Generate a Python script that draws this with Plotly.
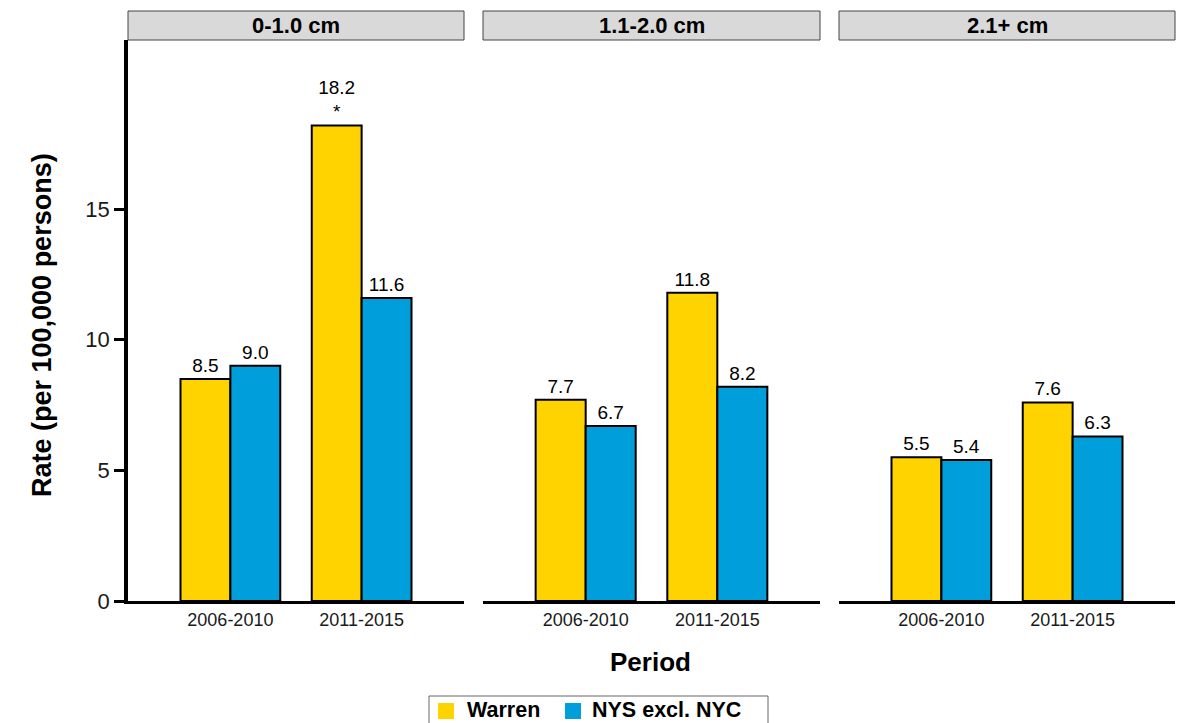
import plotly.graph_objects as go

panels = ["0-1.0 cm", "1.1-2.0 cm", "2.1+ cm"]
periods = ["2006-2010", "2011-2015"]
series_names = ["Warren", "NYS excl. NYC"]
warren = [[8.5, 18.2], [7.7, 11.8], [5.5, 7.6]]
nys = [[9.0, 11.6], [6.7, 8.2], [5.4, 6.3]]
warren_labels = [["8.5", "18.2<br>*"], ["7.7", "11.8"], ["5.5", "7.6"]]
nys_labels = [["9.0", "11.6"], ["6.7", "8.2"], ["5.4", "6.3"]]
y_ticks = [0, 5, 10, 15]

YELLOW = "#FFD300"
BLUE = "#009EDB"
FONT = "Liberation Sans, Arial, sans-serif"

W, H = 1181, 723
ml, mr, mt, mb = 128, 6, 40, 122
pw = W - ml - mr
ph = H - mt - mb
px_domains = [(128, 464), (483, 820), (839, 1175)]
domains = [((a - ml) / pw, (b - ml) / pw) for a, b in px_domains]


def px_x(x):
    return (x - ml) / pw


def px_y(y):
    return (H - mb - y) / ph


fig = go.Figure()
for i in range(3):
    xa = "x" if i == 0 else f"x{i+1}"
    ya = "y" if i == 0 else f"y{i+1}"
    fig.add_trace(go.Bar(
        x=periods, y=warren[i], name=series_names[0],
        marker=dict(color=YELLOW, line=dict(color="black", width=2)),
        text=warren_labels[i], textposition="outside", textfont=dict(size=19, color="black", family=FONT),
        cliponaxis=False, xaxis=xa, yaxis=ya, showlegend=False, offsetgroup="w",
    ))
    fig.add_trace(go.Bar(
        x=periods, y=nys[i], name=series_names[1],
        marker=dict(color=BLUE, line=dict(color="black", width=2)),
        text=nys_labels[i], textposition="outside", textfont=dict(size=19, color="black", family=FONT),
        cliponaxis=False, xaxis=xa, yaxis=ya, showlegend=False, offsetgroup="n",
    ))

layout = dict(
    width=W, height=H, margin=dict(l=ml, r=mr, t=mt, b=mb, autoexpand=False),
    plot_bgcolor="white", paper_bgcolor="white",
    barmode="group", bargap=0.24, bargroupgap=0,
    font=dict(family=FONT, color="black"),
    showlegend=False,
)
for i in range(3):
    xk = "xaxis" if i == 0 else f"xaxis{i+1}"
    yk = "yaxis" if i == 0 else f"yaxis{i+1}"
    layout[xk] = dict(domain=list(domains[i]), anchor="y" if i == 0 else f"y{i+1}",
                      type="category", range=[-0.78, 1.78], showline=True, linecolor="black", linewidth=3,
                      ticks="", showgrid=False, zeroline=False, automargin=False,
                      tickfont=dict(size=18, color="#1a1a1a", family=FONT))
    layout[yk] = dict(anchor="x" if i == 0 else f"x{i+1}", range=[0, 21.47], showgrid=False, zeroline=False,
                      showline=(i == 0), linecolor="black", linewidth=3.5, automargin=False,
                      ticks="outside" if i == 0 else "", ticklen=10, tickwidth=3, tickcolor="black",
                      ticklabelstandoff=0,
                      tickvals=y_ticks, showticklabels=(i == 0),
                      tickfont=dict(size=22, color="#1a1a1a", family=FONT))
fig.update_layout(**layout)

shapes = []
annotations = []
for i, (a, b) in enumerate(px_domains):
    shapes.append(dict(type="rect", xref="paper", yref="paper",
                       x0=px_x(a), x1=px_x(b), y0=1.0, y1=1 + 29 / ph,
                       fillcolor="#D9D9D9", line=dict(color="#444", width=1)))
    annotations.append(dict(xref="paper", yref="paper", x=px_x((a + b) / 2), y=1 + 14.5 / ph,
                            text=f"<b>{panels[i]}</b>", showarrow=False, xanchor="center", yanchor="middle",
                            font=dict(size=22, family=FONT, color="black")))
annotations.append(dict(xref="paper", yref="paper", x=px_x(650), y=px_y(662),
                        text="<b>Period</b>", showarrow=False, xanchor="center", yanchor="middle",
                        font=dict(size=26, family=FONT, color="black")))
annotations.append(dict(xref="paper", yref="paper", x=px_x(42), y=px_y(325),
                        text="<b>Rate (per 100,000 persons)</b>", showarrow=False, textangle=-90,
                        xanchor="center", yanchor="middle",
                        font=dict(size=27, family=FONT, color="black")))

# legend (drawn manually to match the reference's box and swatch sizes)
shapes.append(dict(type="rect", xref="paper", yref="paper",
                   x0=px_x(429), x1=px_x(768), y0=px_y(740), y1=px_y(696),
                   fillcolor="white", line=dict(color="#666", width=1)))
legend_items = [(series_names[0], YELLOW, 438, 467), (series_names[1], BLUE, 565, 592)]
for name, col, sx, tx in legend_items:
    shapes.append(dict(type="rect", xref="paper", yref="paper",
                       x0=px_x(sx), x1=px_x(sx + 16), y0=px_y(719), y1=px_y(703),
                       fillcolor=col, line=dict(width=0)))
    annotations.append(dict(xref="paper", yref="paper", x=px_x(tx - 1), y=px_y(709.5),
                            text=f"<b>{name}</b>", showarrow=False, xanchor="left", yanchor="middle",
                            borderpad=0,
                            font=dict(size=21.5, family=FONT, color="black")))
fig.update_layout(shapes=shapes, annotations=annotations)

fig.write_html("out.html", config={"displayModeBar": False},
               post_script="document.body.style.margin='0';document.body.style.overflow='hidden';")
